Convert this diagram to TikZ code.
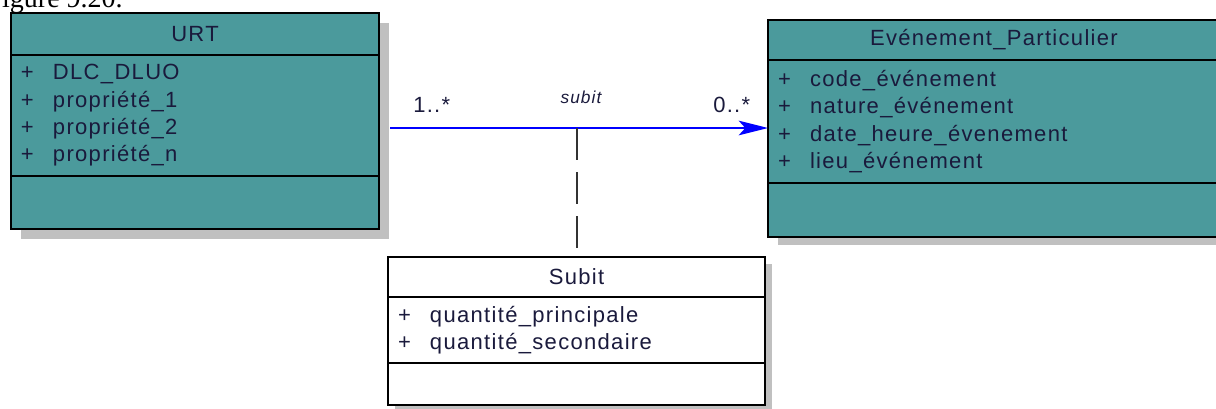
\documentclass[tikz,border=0pt]{standalone}
\usepackage{fontspec}
\setmainfont{Liberation Serif}
\newfontfamily\umlfont[LetterSpace=6]{Liberation Sans}
\usepackage{tikz}
\usetikzlibrary{arrows.meta, positioning, backgrounds}
\usepackage{xcolor}
\definecolor{Teal}{HTML}{4B9A9C}
\definecolor{Shade}{HTML}{C0C0C0}
\definecolor{Ink}{HTML}{1A1A3C}
\definecolor{LinkBlue}{HTML}{0000FF}
\definecolor{DashGray}{HTML}{333333}

\newcommand{\attr}[1]{\makebox[24pt][l]{+}#1}

\begin{document}
\begin{tikzpicture}[
    x=0.75pt, y=-0.75pt,
    comp/.style={
        draw=black, line width=1.5pt, fill=Teal, text=Ink,
        font=\umlfont\fontsize{16.5}{20.5}\selectfont,
        inner xsep=7.5pt, inner ysep=0pt, outer sep=0pt
    },
    head/.style={comp, align=center, anchor=north},
    attrs/.style={comp, align=left},
    mult/.style={font=\umlfont\fontsize{16.5}{20.5}\selectfont, text=Ink, anchor=base west, inner sep=0pt},
    assoc/.style={-{Stealth[length=22pt, width=11pt, inset=5pt]}, line width=1.5pt, LinkBlue},
    link/.style={line width=1.5pt, DashGray, dash pattern=on 24pt off 9pt}
]
\useasboundingbox (0,0) rectangle (1216,408);

% === Caption (cut at the top) ===
\node[font=\fontsize{21}{24}\selectfont, anchor=base east, inner sep=0pt] (fig) at (123,7) {Figure 9.20.};

% === URT ===
\node[head, minimum width=276pt, minimum height=31.5pt] (urt-t) at (195,13) {URT};
\node[attrs, text width=261pt, minimum height=90.75pt, below=0pt of urt-t] (urt-a)
    {\attr{DLC\_DLUO}\\ \attr{propriété\_1}\\ \attr{propriété\_2}\\ \attr{propriété\_n}};
\node[comp, minimum width=276pt, minimum height=39.75pt, below=0pt of urt-a] (urt-o) {};

% === Evénement_Particulier ===
\node[head, minimum width=339pt, minimum height=30pt] (evt-t) at (994,20) {Evénement\_Particulier};
\node[attrs, text width=324pt, minimum height=92.25pt, below=0pt of evt-t] (evt-a)
    {\attr{code\_événement}\\ \attr{nature\_événement}\\ \attr{date\_heure\_évenement}\\ \attr{lieu\_événement}};
\node[comp, minimum width=339pt, minimum height=40.5pt, below=0pt of evt-a] (evt-o) {};

% === Subit (association class) ===
\node[head, fill=white, minimum width=282.75pt, minimum height=30pt] (sub-t) at (576.5,257) {Subit};
\node[attrs, fill=white, text width=267.75pt, minimum height=49.5pt, below=0pt of sub-t] (sub-a)
    {\attr{quantité\_principale}\\ \attr{quantité\_secondaire}};
\node[comp, fill=white, minimum width=282.75pt, minimum height=31.5pt, below=0pt of sub-a] (sub-o) {};

% === Shadows ===
\begin{scope}[on background layer]
\fill[Shade] ([shift={(10,10)}]urt-t.north west) rectangle ([shift={(10,10)}]urt-o.south east);
\fill[Shade] ([shift={(10,8)}]evt-t.north west) rectangle ([shift={(10,8)}]evt-o.south east);
\fill[Shade] ([shift={(7,7)}]sub-t.north west) rectangle ([shift={(7,7)}]sub-o.south east);
\end{scope}

% === Association ===
\coordinate (urt-e) at ([shift={(11,12.5)}]urt-a.east);
\draw[assoc] (urt-e) -- (urt-e -| evt-a.west);
\draw[link] (urt-e -| sub-t.north) -- (sub-t.north);

\node[mult] (m-urt) at (413,112) {1..*};
\node[mult] (m-evt) at (713,112) {0..*};
\node[font=\umlfont\itshape\fontsize{13}{15}\selectfont, text=Ink, anchor=base, inner sep=0pt] (role) at (581,103) {subit};

\end{tikzpicture}
\end{document}
